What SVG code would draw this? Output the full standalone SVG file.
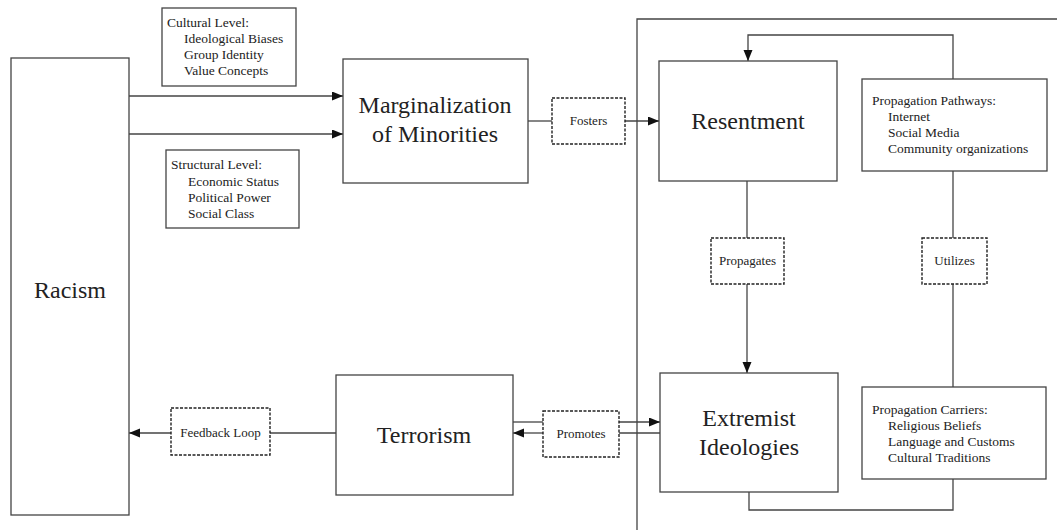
<svg xmlns="http://www.w3.org/2000/svg" width="1057" height="530" viewBox="0 0 1057 530">
<style>
.box{fill:#fff;stroke:#444;stroke-width:1.3}
.dbox{fill:#fff;stroke:#222;stroke-width:1.4;stroke-dasharray:3 1.5}
.ln{fill:none;stroke:#444;stroke-width:1.3}
.big{font-family:"Liberation Serif","Times New Roman",serif;font-size:24px;fill:#222;text-anchor:middle}
.sm{font-family:"Liberation Serif","Times New Roman",serif;font-size:13.5px;fill:#222}
.lbl{font-family:"Liberation Serif","Times New Roman",serif;font-size:13px;fill:#222;text-anchor:middle}
</style>
<defs>
<marker id="ah" markerUnits="userSpaceOnUse" markerWidth="12" markerHeight="10" refX="11" refY="4.5" orient="auto">
<path d="M0,0 L11,4.5 L0,9 z" fill="#111"/>
</marker>
</defs>
<rect width="1057" height="530" fill="#fff"/>
<g id="frame"><path class="ln" d="M637,530 V19 H1057"/></g>
<g id="connectors">
<path class="ln" d="M129,96 H343" marker-end="url(#ah)"/>
<path class="ln" d="M129,134 H343" marker-end="url(#ah)"/>
<path class="ln" d="M528,121 H552"/>
<path class="ln" d="M625,121 H659" marker-end="url(#ah)"/>
<path class="ln" d="M747,181 V238"/>
<path class="ln" d="M747,284 V373" marker-end="url(#ah)"/>
<path class="ln" d="M953,171 V238"/>
<path class="ln" d="M953,284 V387"/>
<path class="ln" d="M749,492 V510 H953 V479"/>
<path class="ln" d="M953,79 V35 H748 V61" marker-end="url(#ah)"/>
<path class="ln" d="M660,433 H619"/>
<path class="ln" d="M543,433 H513" marker-end="url(#ah)"/>
<path class="ln" d="M513,422 H543"/>
<path class="ln" d="M619,422 H660" marker-end="url(#ah)"/>
<path class="ln" d="M336,433 H270"/>
<path class="ln" d="M171,433 H129" marker-end="url(#ah)"/>
</g>
<g id="racism"><rect class="box" x="11" y="58" width="118" height="457"/><text class="big" x="70" y="298">Racism</text></g>
<g id="cultural"><rect class="box" x="162" y="8" width="134" height="78"/>
<text class="sm" x="167" y="27">Cultural Level:</text>
<text class="sm" x="184" y="43">Ideological Biases</text>
<text class="sm" x="184" y="59">Group Identity</text>
<text class="sm" x="184" y="75">Value Concepts</text></g>
<g id="structural"><rect class="box" x="166" y="150" width="133" height="78"/>
<text class="sm" x="171" y="169">Structural Level:</text>
<text class="sm" x="188" y="186">Economic Status</text>
<text class="sm" x="188" y="202">Political Power</text>
<text class="sm" x="188" y="218">Social Class</text></g>
<g id="marginalization"><rect class="box" x="343" y="59" width="185" height="124"/>
<text class="big" x="435" y="113">Marginalization</text>
<text class="big" x="435" y="142">of Minorities</text></g>
<g id="fosters"><rect class="dbox" x="552" y="98" width="73" height="46"/><text class="lbl" x="588.5" y="125">Fosters</text></g>
<g id="resentment"><rect class="box" x="659" y="61" width="178" height="120"/><text class="big" x="748" y="129">Resentment</text></g>
<g id="pathways"><rect class="box" x="862" y="79" width="185" height="92"/>
<text class="sm" x="872" y="105">Propagation Pathways:</text>
<text class="sm" x="888" y="121">Internet</text>
<text class="sm" x="888" y="137">Social Media</text>
<text class="sm" x="888" y="153">Community organizations</text></g>
<g id="propagates"><rect class="dbox" x="711" y="238" width="73" height="46"/><text class="lbl" x="747.5" y="265">Propagates</text></g>
<g id="utilizes"><rect class="dbox" x="922" y="238" width="65" height="46"/><text class="lbl" x="954.5" y="265">Utilizes</text></g>
<g id="extremist"><rect class="box" x="660" y="373" width="178" height="119"/>
<text class="big" x="749" y="426">Extremist</text>
<text class="big" x="749" y="455">Ideologies</text></g>
<g id="carriers"><rect class="box" x="862" y="387" width="184" height="92"/>
<text class="sm" x="872" y="414">Propagation Carriers:</text>
<text class="sm" x="888" y="430">Religious Beliefs</text>
<text class="sm" x="888" y="446">Language and Customs</text>
<text class="sm" x="888" y="462">Cultural Traditions</text></g>
<g id="promotes"><rect class="dbox" x="543" y="411" width="76" height="46"/><text class="lbl" x="581" y="438">Promotes</text></g>
<g id="terrorism"><rect class="box" x="336" y="375" width="177" height="120"/><text class="big" x="424" y="443">Terrorism</text></g>
<g id="feedback"><rect class="dbox" x="171" y="408" width="99" height="47"/><text class="lbl" x="220.5" y="437">Feedback Loop</text></g>
</svg>
